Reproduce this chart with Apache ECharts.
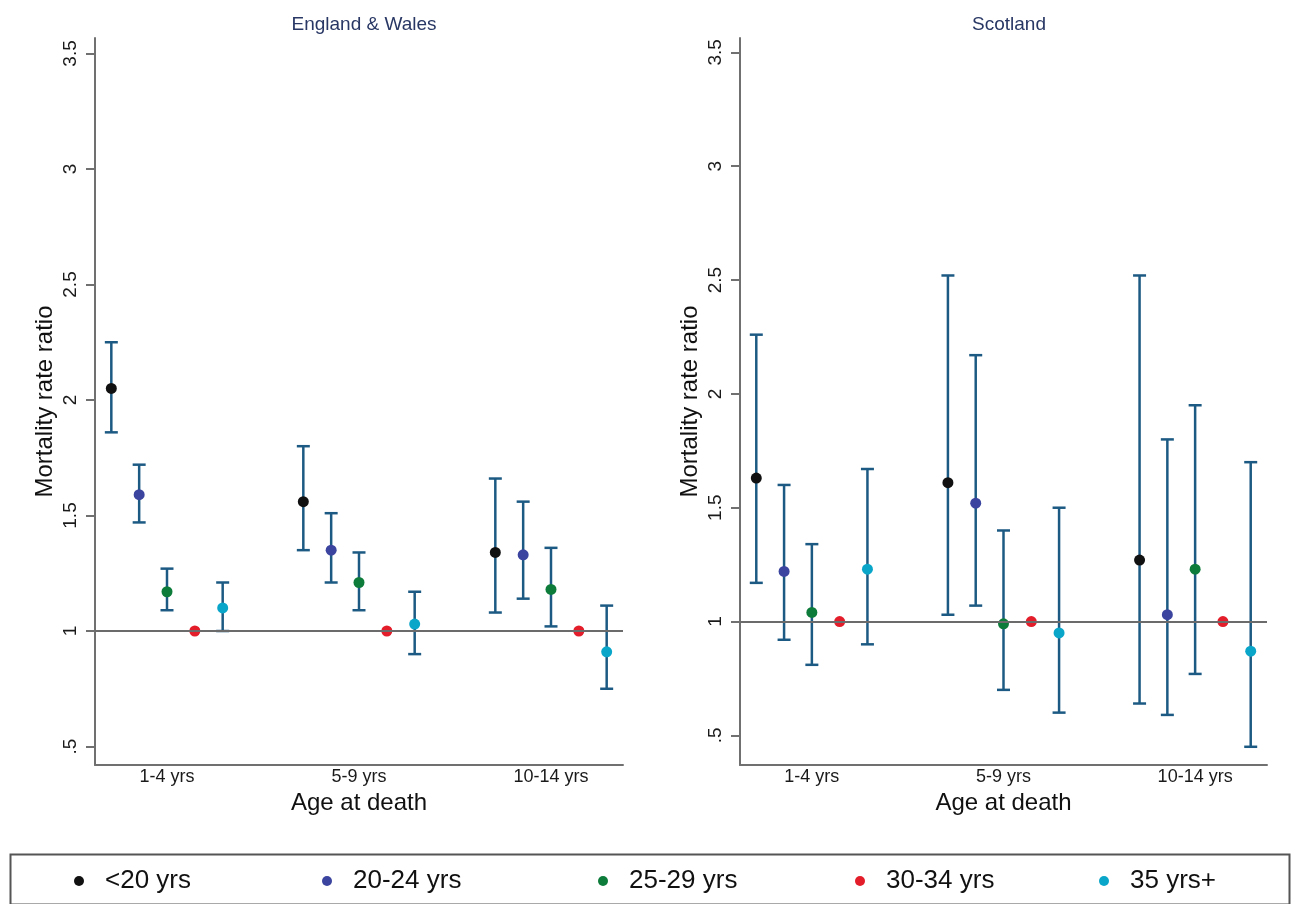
<!DOCTYPE html>
<html>
<head>
<meta charset="utf-8">
<title>Mortality rate ratio by age at death</title>
<script src="https://cdn.jsdelivr.net/npm/echarts@6/dist/echarts.min.js"></script>
<style>
  html, body { margin: 0; padding: 0; background: #ffffff; }
  #chart { width: 1293px; height: 904px; }
</style>
</head>
<body>
<div id="chart"></div>
<script>
// Child age at death (x categories) and maternal age groups (series)
const ageGroups = ['1-4 yrs', '5-9 yrs', '10-14 yrs'];
const maternalAge = ['<20 yrs', '20-24 yrs', '25-29 yrs', '30-34 yrs', '35 yrs+'];
const yTicks = [0.5, 1, 1.5, 2, 2.5, 3, 3.5];

// England & Wales: rows = maternal age group, columns = age at death
const ewRatio = [
  [2.05, 1.56, 1.34],
  [1.59, 1.35, 1.33],
  [1.17, 1.21, 1.18],
  [1.00, 1.00, 1.00],
  [1.10, 1.03, 0.91]
];
const ewLower = [
  [1.86, 1.35, 1.08],
  [1.47, 1.21, 1.14],
  [1.09, 1.09, 1.02],
  [null, null, null],
  [1.00, 0.90, 0.75]
];
const ewUpper = [
  [2.25, 1.80, 1.66],
  [1.72, 1.51, 1.56],
  [1.27, 1.34, 1.36],
  [null, null, null],
  [1.21, 1.17, 1.11]
];

// Scotland
const scRatio = [
  [1.63, 1.61, 1.27],
  [1.22, 1.52, 1.03],
  [1.04, 0.99, 1.23],
  [1.00, 1.00, 1.00],
  [1.23, 0.95, 0.87]
];
const scLower = [
  [1.17, 1.03, 0.64],
  [0.92, 1.07, 0.59],
  [0.81, 0.70, 0.77],
  [null, null, null],
  [0.90, 0.60, 0.45]
];
const scUpper = [
  [2.26, 2.52, 2.52],
  [1.60, 2.17, 1.80],
  [1.34, 1.40, 1.95],
  [null, null, null],
  [1.67, 1.50, 1.70]
];

const markerColors = ['#111111', '#3b449e', '#0d7c3b', '#e31d2a', '#0aa6c9'];
const barColor = '#1d5a83';
const axisGray = '#707070';
const fontFamily = '"Liberation Sans", Arial, Helvetica, sans-serif';
const dodge = 0.145; // horizontal spacing between maternal age groups within a category

const panels = [
  { title: 'England & Wales', ratio: ewRatio, lower: ewLower, upper: ewUpper,
    grid: { left: 95, top: 38, width: 528, height: 727 }, yMin: 0.42, yMax: 3.567, titleX: 359 },
  { title: 'Scotland', ratio: scRatio, lower: scLower, upper: scUpper,
    grid: { left: 740, top: 38, width: 527, height: 727 }, yMin: 0.37, yMax: 3.563, titleX: 1004 }
];

function xPos(catIdx, groupIdx) {
  return catIdx + 1 + (groupIdx - 2) * dodge;
}

function renderErrorBar(params, api) {
  const x = api.value(0);
  const lo = api.coord([x, api.value(1)]);
  const hi = api.coord([x, api.value(2)]);
  const half = 6.5;
  const style = { stroke: barColor, lineWidth: 2.5, fill: null };
  return {
    type: 'group',
    children: [
      { type: 'line', shape: { x1: lo[0], y1: lo[1], x2: hi[0], y2: hi[1] }, style: style },
      { type: 'line', shape: { x1: lo[0] - half, y1: lo[1], x2: lo[0] + half, y2: lo[1] }, style: style },
      { type: 'line', shape: { x1: hi[0] - half, y1: hi[1], x2: hi[0] + half, y2: hi[1] }, style: style }
    ]
  };
}

const grids = [], xAxes = [], yAxes = [], titles = [], series = [];

panels.forEach((p, pi) => {
  grids.push(Object.assign({ containLabel: false }, p.grid));
  titles.push({
    text: p.title, left: p.titleX, top: 10, textAlign: 'center',
    textStyle: { fontSize: 19, fontWeight: 'normal', color: '#283764', fontFamily: fontFamily }
  });
  xAxes.push({
    type: 'value', gridIndex: pi, min: 0.625, max: 3.375,
    name: 'Age at death', nameLocation: 'middle', nameGap: 21,
    nameTextStyle: { fontSize: 24, color: '#111', fontFamily: fontFamily },
    axisLine: { show: true, onZero: false, lineStyle: { color: axisGray, width: 2 } },
    axisTick: { show: false },
    splitLine: { show: false },
    axisLabel: {
      customValues: [1, 2, 3], margin: 3, fontSize: 18, color: '#1a1a1a', fontFamily: fontFamily,
      formatter: v => ageGroups[Math.round(v) - 1]
    }
  });
  yAxes.push({
    type: 'value', gridIndex: pi, min: p.yMin, max: p.yMax,
    name: 'Mortality rate ratio', nameLocation: 'middle', nameGap: 38, nameRotate: 90,
    nameTextStyle: { fontSize: 24, color: '#111', fontFamily: fontFamily },
    axisLine: { show: true, onZero: false, lineStyle: { color: axisGray, width: 2 } },
    axisTick: { show: true, customValues: yTicks, length: 9, lineStyle: { color: axisGray, width: 2 } },
    splitLine: { show: false },
    axisLabel: {
      customValues: yTicks, rotate: 90, margin: 15, fontSize: 19, color: '#1a1a1a', fontFamily: fontFamily,
      formatter: v => String(v).replace(/^0\./, '.')
    }
  });

  // Confidence intervals, plus the reference line at a ratio of 1
  const bars = [];
  p.lower.forEach((row, m) => {
    row.forEach((lo, k) => {
      if (lo !== null) bars.push([xPos(k, m), lo, p.upper[m][k]]);
    });
  });
  series.push({
    type: 'custom', xAxisIndex: pi, yAxisIndex: pi, z: 2,
    renderItem: renderErrorBar, data: bars, silent: true,
    encode: { x: 0, y: [1, 2] },
    markLine: {
      silent: true, symbol: 'none', label: { show: false },
      lineStyle: { color: '#6b6b6b', width: 2, type: 'solid' },
      data: [{ yAxis: 1 }]
    }
  });

  // Point estimates
  maternalAge.forEach((name, m) => {
    series.push({
      name: name, type: 'scatter', xAxisIndex: pi, yAxisIndex: pi, z: 3,
      symbol: 'circle', symbolSize: 11,
      itemStyle: { color: markerColors[m], opacity: 1 },
      data: p.ratio[m].map((v, k) => [xPos(k, m), v])
    });
  });
});

// One legend per entry so each sits at its own column inside the frame
const legendCenters = [79, 327, 603, 860, 1104];
const legends = maternalAge.map((name, m) => ({
  data: [name], left: legendCenters[m] - 5, top: 868, padding: 0,
  orient: 'horizontal', icon: 'circle', itemWidth: 10, itemHeight: 10, itemGap: 0,
  selectedMode: false,
  textStyle: { fontSize: 26, lineHeight: 26, color: '#111', fontFamily: fontFamily, padding: [0, 0, 0, 16] }
}));

const chart = echarts.init(document.getElementById('chart'), null, { renderer: 'canvas' });
chart.setOption({
  backgroundColor: '#ffffff',
  animation: false,
  title: titles,
  grid: grids,
  xAxis: xAxes,
  yAxis: yAxes,
  legend: legends,
  series: series,
  graphic: [{
    type: 'rect', left: 8, top: 852, silent: true,
    shape: { width: 1279, height: 50 },
    style: { fill: null, stroke: '#555555', lineWidth: 2 }
  }]
});
</script>
</body>
</html>
